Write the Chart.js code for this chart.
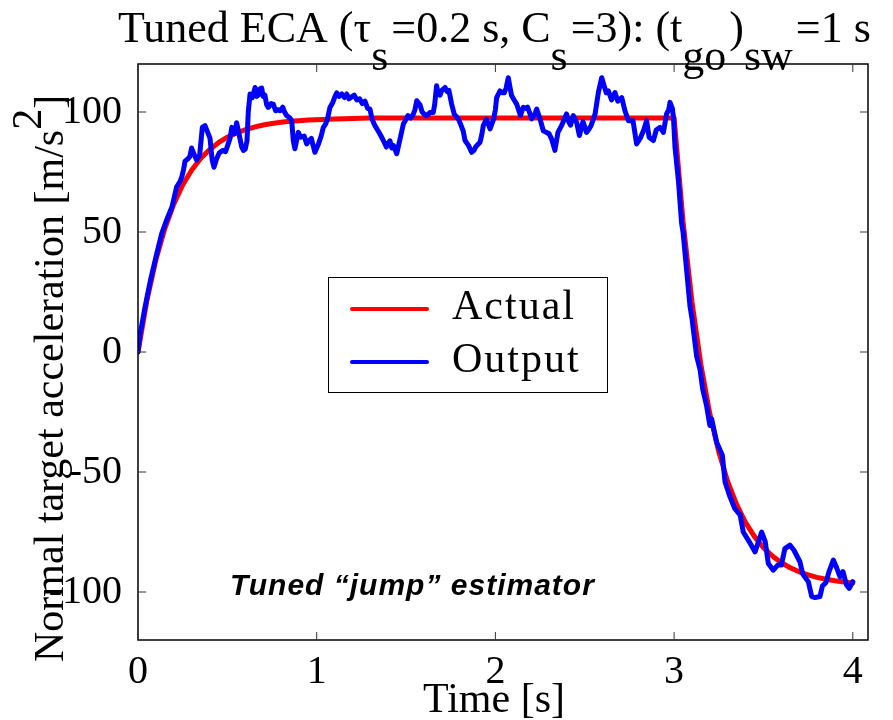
<!DOCTYPE html>
<html>
<head>
<meta charset="utf-8">
<script src="https://cdn.jsdelivr.net/npm/chart.js@4.4.1/dist/chart.umd.min.js"></script>
<style>
  html, body { margin: 0; padding: 0; background: #fff; }
  #wrap { width: 893px; height: 720px; }
</style>
</head>
<body>
<div id="wrap"><canvas id="accelChart" width="893" height="720"></canvas></div>
<script>
// Actual target acceleration [m/s^2] vs time [s]
const actualTime = [0, 0.05, 0.1, 0.15, 0.2, 0.25, 0.3, 0.35, 0.4, 0.45, 0.5, 0.55, 0.6, 0.65, 0.7, 0.75, 0.8, 0.85, 0.9, 0.95, 1.0, 1.1, 1.2, 1.3,
  3.0, 3.05, 3.1, 3.15, 3.2, 3.25, 3.3, 3.35, 3.4, 3.45, 3.5, 3.55, 3.6, 3.65, 3.7, 3.75, 3.8, 3.85, 3.9, 3.95, 4.0];
const actualAccel = [0, 21.6, 38.4, 51.4, 61.6, 69.6, 75.7, 80.6, 84.3, 87.2, 89.5, 91.3, 92.6, 93.7, 94.6, 95.2, 95.7, 96.1, 96.4, 96.7, 96.8, 97.1, 97.3, 97.5,
  97.5, 54.4, 20.8, -5.4, -25.8, -41.6, -54.0, -63.6, -71.1, -76.9, -81.5, -85.0, -87.8, -89.9, -91.6, -92.9, -93.9, -94.7, -95.3, -95.8, -96.2];

// Estimator output
const outputTime = [0, 0.01, 0.04, 0.07, 0.105, 0.133, 0.16, 0.19, 0.216, 0.235, 0.245, 0.255, 0.263, 0.28, 0.29, 0.3, 0.31, 0.328, 0.345, 0.36,
  0.375, 0.39, 0.403, 0.415, 0.425, 0.44, 0.455, 0.475, 0.49, 0.515, 0.525, 0.54, 0.552, 0.565, 0.58, 0.59, 0.6, 0.61, 0.617, 0.627,
  0.64, 0.655, 0.665, 0.673, 0.68, 0.692, 0.7, 0.71, 0.72, 0.729, 0.745, 0.757, 0.77, 0.78, 0.795, 0.81, 0.82, 0.832, 0.85, 0.86,
  0.869, 0.878, 0.89, 0.897, 0.91, 0.93, 0.944, 0.955, 0.97, 0.98, 0.99, 1.0, 1.01, 1.025, 1.037, 1.05, 1.06, 1.074, 1.09, 1.1,
  1.112, 1.125, 1.14, 1.155, 1.168, 1.18, 1.19, 1.21, 1.225, 1.24, 1.255, 1.27, 1.285, 1.298, 1.31, 1.326, 1.345, 1.36, 1.373, 1.39,
  1.4, 1.41, 1.42, 1.43, 1.448, 1.46, 1.47, 1.485, 1.5, 1.51, 1.525, 1.54, 1.55, 1.56, 1.578, 1.59, 1.61, 1.625, 1.634, 1.652,
  1.66, 1.671, 1.68, 1.69, 1.7, 1.718, 1.73, 1.74, 1.755, 1.77, 1.793, 1.81, 1.82, 1.83, 1.85, 1.867, 1.88, 1.89, 1.914, 1.925,
  1.932, 1.95, 1.96, 1.97, 1.99, 2.0, 2.007, 2.026, 2.04, 2.05, 2.06, 2.072, 2.08, 2.09, 2.105, 2.119, 2.14, 2.156, 2.17, 2.18,
  2.19, 2.203, 2.22, 2.231, 2.25, 2.268, 2.285, 2.3, 2.314, 2.333, 2.35, 2.37, 2.385, 2.398, 2.41, 2.42, 2.436, 2.455, 2.47, 2.49,
  2.51, 2.525, 2.535, 2.548, 2.558, 2.576, 2.595, 2.61, 2.62, 2.632, 2.65, 2.669, 2.685, 2.707, 2.725, 2.744, 2.77, 2.79, 2.81, 2.83,
  2.846, 2.86, 2.884, 2.9, 2.921, 2.94, 2.958, 2.97, 2.977, 2.99, 2.996, 3.005, 3.024, 3.042, 3.05, 3.07, 3.089, 3.1, 3.126, 3.145,
  3.16, 3.182, 3.2, 3.21, 3.238, 3.27, 3.285, 3.31, 3.34, 3.37, 3.387, 3.42, 3.453, 3.49, 3.51, 3.527, 3.555, 3.58, 3.6, 3.62,
  3.648, 3.67, 3.704, 3.72, 3.751, 3.77, 3.79, 3.816, 3.83, 3.85, 3.867, 3.891, 3.91, 3.928, 3.945, 3.965, 3.98, 4.0];
const outputAccel = [0, 6.6, 19, 30, 41, 49.4, 55, 60.4, 68.7, 71, 73, 76, 79.5, 80.5, 81.5, 85, 83, 80, 82, 93.6,
  94.3, 91.5, 89, 80, 77, 80.5, 83, 84, 83.5, 89, 93.6, 91, 95.5, 91, 85.5, 84, 84.5, 88, 100, 107.5,
  106, 110.2, 106.5, 107, 109.5, 110, 106.5, 107, 103, 101.9, 103.5, 103.3, 100.5, 101, 100.5, 102, 100, 98.5, 97.5, 96.5,
  88, 84.7, 89, 91.5, 89.5, 90, 86.7, 88, 89, 86, 83.2, 85, 86.7, 90, 93.6, 95, 97, 101.9, 104, 106,
  108, 106.5, 107.5, 106, 107.5, 105.5, 106, 107, 105, 105.5, 103.5, 104.5, 101.5, 101.2, 97, 94.3, 92, 90, 88.1, 85.4,
  87, 88, 85, 86, 82.6, 86.7, 90, 95, 97, 98.5, 97.5, 99, 101, 104.7, 103, 100, 98.5, 99, 99.8, 99.8,
  103, 110.9, 107.5, 107, 109, 110.2, 108.5, 109, 103.3, 99, 97.1, 94, 92, 88.1, 86, 83.2, 84, 85.5, 87.4, 91,
  94.3, 97, 95, 93, 97, 101, 106, 108.8, 108, 108, 110, 114.3, 111, 107, 105, 103.3, 98.5, 101.9, 101.5, 102,
  100, 97.1, 99, 101.2, 97, 92.2, 91.5, 91, 88.8, 84, 91.5, 94.3, 97, 99.2, 96, 94.5, 98.5, 95.5, 90.2, 96,
  91.5, 93, 94.3, 97, 99.2, 108.1, 114.3, 110.5, 108, 108.8, 105, 108.1, 104.5, 106, 100.5, 96.4, 96.4, 86.7, 89, 92.5,
  96.4, 89.5, 88.1, 92.5, 93.6, 91.5, 99.2, 101, 104, 101.5, 98, 85.3, 71.5, 53.6, 50, 34.2, 19, 14, -1.7, -7.3,
  -15.5, -22.5, -30.6, -27.9, -37.6, -43, -54.2, -59.8, -65.3, -68, -75, -79, -83.3, -75, -79, -88.1, -90.9, -88.8, -88.8, -81.9,
  -80.5, -82.5, -87.4, -92.5, -95.7, -101.9, -102.3, -101.9, -97.5, -96, -91.5, -86.7, -90, -93.6, -91.5, -97.1, -98.5, -95.7];

const xTicks = [0, 1, 2, 3, 4];
const yTicks = [-100, -50, 0, 50, 100];
const seriesNames = ['Actual', 'Output'];

const SERIF = '"Liberation Serif", "Times New Roman", serif';

function toPoints(xs, ys) {
  return xs.map((x, i) => ({ x, y: ys[i] }));
}

// title with subscripts, axis titles, legend box, inward ticks and frame
const decorations = {
  id: 'decorations',
  afterDraw(chart) {
    const { ctx, chartArea: a, scales } = chart;
    ctx.save();

    // frame
    ctx.strokeStyle = '#000';
    ctx.lineWidth = 1.5;
    ctx.strokeRect(a.left, a.top, a.right - a.left, a.bottom - a.top);

    // inward ticks on all four sides
    ctx.lineWidth = 1;
    ctx.strokeStyle = '#333';
    const tl = 8;
    ctx.beginPath();
    xTicks.forEach(v => {
      const px = scales.x.getPixelForValue(v);
      ctx.moveTo(px, a.bottom); ctx.lineTo(px, a.bottom - tl);
      ctx.moveTo(px, a.top); ctx.lineTo(px, a.top + tl);
    });
    yTicks.forEach(v => {
      const py = scales.y.getPixelForValue(v);
      ctx.moveTo(a.left, py); ctx.lineTo(a.left + tl, py);
      ctx.moveTo(a.right, py); ctx.lineTo(a.right - tl, py);
    });
    ctx.stroke();

    ctx.fillStyle = '#000';
    ctx.textBaseline = 'alphabetic';
    ctx.textAlign = 'left';

    // title: pieces on the main line, subscripts dropped below
    ctx.font = '44px ' + SERIF;
    const parts = [
      ['Tuned ECA (\u03c4', 0], ['s', 1], ['=0.2 s, C', 0], ['s', 1], ['=3): (t', 0],
      ['go', 1], [')', 0], ['sw', 1], ['=1 s', 0]
    ];
    let tx = 118;
    parts.forEach(([txt, sub]) => {
      ctx.fillText(txt, tx, sub ? 70 : 42);
      tx += ctx.measureText(txt).width + (sub ? 3 : 0);
    });

    // y axis title with superscript
    ctx.save();
    ctx.translate(63, 662);
    ctx.rotate(-Math.PI / 2);
    ctx.font = '42px ' + SERIF;
    const main = 'Normal target acceleration [m/s';
    ctx.fillText(main, 0, 0);
    let w = ctx.measureText(main).width;
    ctx.fillText('2', w, -22);
    w += ctx.measureText('2').width;
    ctx.fillText(']', w, 0);
    ctx.restore();

    // x axis title
    ctx.font = '42px ' + SERIF;
    ctx.textAlign = 'center';
    ctx.fillText('Time [s]', 494, 712);

    // annotation
    ctx.font = 'italic bold 30px "Liberation Sans", Arial, sans-serif';
    ctx.textAlign = 'left';
    ctx.letterSpacing = '1px';
    ctx.fillText('Tuned \u201cjump\u201d estimator', 230, 595);

    // legend
    ctx.letterSpacing = '2px';
    ctx.lineWidth = 1;
    ctx.strokeStyle = '#000';
    ctx.fillStyle = '#fff';
    ctx.fillRect(328, 277, 279, 115);
    ctx.strokeRect(328.5, 277.5, 279, 115);
    const rows = [309, 362];
    chart.data.datasets.forEach((ds, i) => {
      ctx.strokeStyle = ds.borderColor;
      ctx.lineWidth = 4;
      ctx.lineCap = 'round';
      ctx.beginPath();
      ctx.moveTo(352, rows[i]);
      ctx.lineTo(427, rows[i]);
      ctx.stroke();
      ctx.fillStyle = '#000';
      ctx.font = '42px ' + SERIF;
      ctx.fillText(ds.label, 452, rows[i] + 10);
    });

    ctx.restore();
  }
};

const lineStyle = { borderWidth: 5, pointRadius: 0, tension: 0, borderJoinStyle: 'round', borderCapStyle: 'round' };

const chart = new Chart(document.getElementById('accelChart'), {
  type: 'line',
  data: {
    datasets: [
      { label: seriesNames[0], data: toPoints(actualTime, actualAccel), borderColor: '#ff0000', order: 1, ...lineStyle },
      { label: seriesNames[1], data: toPoints(outputTime, outputAccel), borderColor: '#0000ff', order: 0, ...lineStyle },
    ],
  },
  options: {
    responsive: false,
    animation: false,
    events: [],
    layout: { padding: { left: 0, top: 64, right: 25, bottom: 0 } },
    plugins: { legend: { display: false }, title: { display: false }, tooltip: { enabled: false } },
    scales: {
      x: {
        type: 'linear',
        min: 0,
        max: 4.085,
        afterBuildTicks: s => { s.ticks = xTicks.map(v => ({ value: v })); },
        afterFit: s => { s.height = 80; },
        grid: { display: false, drawTicks: false },
        border: { display: false },
        ticks: { color: '#000', padding: 8, font: { family: SERIF, size: 40 }, maxRotation: 0 },
      },
      y: {
        type: 'linear',
        min: -120,
        max: 120,
        afterBuildTicks: s => { s.ticks = yTicks.map(v => ({ value: v })); },
        afterFit: s => { s.width = 138; },
        grid: { display: false, drawTicks: false },
        border: { display: false },
        ticks: { color: '#000', padding: 16, font: { family: SERIF, size: 40 } },
      },
    },
  },
  plugins: [decorations],
});
</script>
</body>
</html>
